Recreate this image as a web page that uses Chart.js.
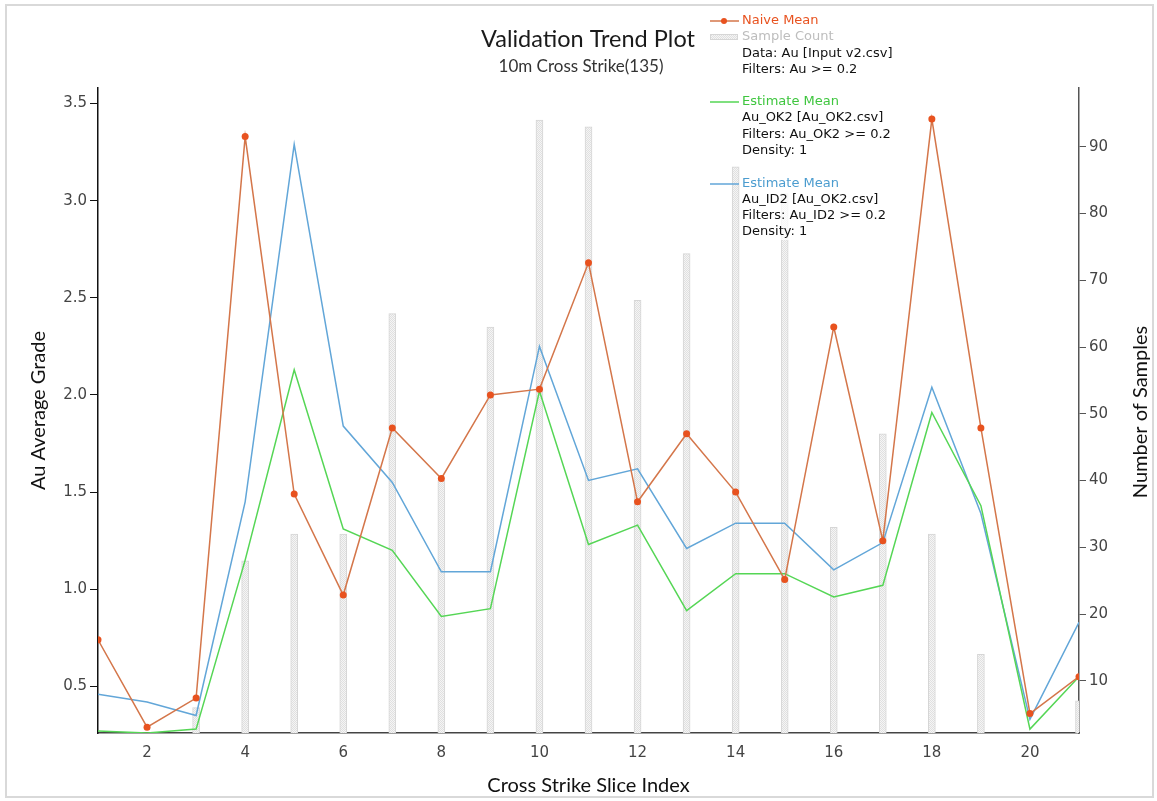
<!DOCTYPE html>
<html>
<head>
<meta charset="utf-8">
<title>Validation Trend Plot</title>
<script src="https://cdn.jsdelivr.net/npm/chart.js@4.4.1/dist/chart.umd.min.js"></script>
<style>
  html, body { margin: 0; padding: 0; background: #fff; }
  #trend { display: block; }
</style>
</head>
<body>
<canvas id="trend" width="1157" height="801"></canvas>
<script>
// slice index along the cross strike
const sliceIndex = [1, 2, 3, 4, 5, 6, 7, 8, 9, 10, 11, 12, 13, 14, 15, 16, 17, 18, 19, 20, 21];

// Au grades per slice
const naiveMean  = [0.74, 0.29, 0.44, 3.33, 1.49, 0.97, 1.83, 1.57, 2.00, 2.03, 2.68, 1.45, 1.80, 1.50, 1.05, 2.35, 1.25, 3.42, 1.83, 0.36, 0.55];
const okEstimate = [0.27, 0.26, 0.28, 1.15, 2.13, 1.31, 1.20, 0.86, 0.90, 2.02, 1.23, 1.33, 0.89, 1.08, 1.08, 0.96, 1.02, 1.91, 1.43, 0.28, 0.55];
const idEstimate = [0.46, 0.42, 0.35, 1.45, 3.29, 1.84, 1.55, 1.09, 1.09, 2.25, 1.56, 1.62, 1.21, 1.34, 1.34, 1.10, 1.24, 2.04, 1.39, 0.33, 0.83];

// samples per slice
const sampleCount = [null, null, 6, 28, 32, 32, 65, 40, 63, 94, 93, 67, 74, 87, 83, 33, 47, 32, 14, null, 7];

// axis ticks
const xTickValues     = [2, 4, 6, 8, 10, 12, 14, 16, 18, 20];
const gradeTickValues = [0.5, 1.0, 1.5, 2.0, 2.5, 3.0, 3.5];
const countTickValues = [10, 20, 30, 40, 50, 60, 70, 80, 90];

const ORANGE = '#e8521f';
const ORANGE_LINE = '#d4764a';
const GREEN = '#55d655';
const BLUE = '#62a6d8';

const pairs = (vals) => sliceIndex.map((s, i) => ({ x: s, y: vals[i] }));

// dotted grey fill used for the sample bars
function dottedFill() {
  const c = document.createElement('canvas');
  c.width = 2; c.height = 2;
  const g = c.getContext('2d');
  g.fillStyle = '#f5f5f5';
  g.fillRect(0, 0, 2, 2);
  g.fillStyle = '#e0e0e0';
  g.fillRect(0, 0, 1, 1);
  g.fillRect(1, 1, 1, 1);
  return g.createPattern(c, 'repeat');
}
const barFill = dottedFill();

const tickFont = { family: 'DejaVu Sans', size: 15 };
const titleFont = { family: 'Lato', size: 20 };

const legendBlocks = [
  { y: 21, color: ORANGE, text: 'Naive Mean', kind: 'dot' },
  { y: 37, color: '#bdbdbd', text: 'Sample Count', kind: 'bar' },
  { y: 54, color: '#111', text: 'Data: Au [Input v2.csv]' },
  { y: 70, color: '#111', text: 'Filters: Au >= 0.2' },
  { y: 102, color: '#3fc63f', text: 'Estimate Mean', kind: 'line', line: GREEN },
  { y: 118, color: '#111', text: 'Au_OK2 [Au_OK2.csv]' },
  { y: 135, color: '#111', text: 'Filters: Au_OK2 >= 0.2' },
  { y: 151, color: '#111', text: 'Density: 1' },
  { y: 184, color: '#4b9ccf', text: 'Estimate Mean', kind: 'line', line: BLUE },
  { y: 200, color: '#111', text: 'Au_ID2 [Au_OK2.csv]' },
  { y: 216, color: '#111', text: 'Filters: Au_ID2 >= 0.2' },
  { y: 232, color: '#111', text: 'Density: 1' },
];

const decorations = {
  id: 'decorations',
  beforeDraw(chart) {
    const ctx = chart.ctx;
    ctx.save();
    ctx.fillStyle = '#fff';
    ctx.fillRect(0, 0, chart.width, chart.height);
    ctx.strokeStyle = '#d9d9d9';
    ctx.lineWidth = 2;
    ctx.strokeRect(6, 5, 1147, 792);
    ctx.restore();
  },
  afterDraw(chart) {
    const ctx = chart.ctx;
    ctx.save();
    ctx.textBaseline = 'middle';
    ctx.textAlign = 'center';

    ctx.fillStyle = '#1a1a1a';
    ctx.font = '23.5px Lato';
    ctx.fillText('Validation Trend Plot', 588, 39);
    ctx.fillStyle = '#333';
    ctx.font = '17px Lato';
    ctx.fillText('10m Cross Strike(135)', 581, 67);

    // right axis title, reading bottom to top like the left one
    ctx.save();
    ctx.translate(1141, 412);
    ctx.rotate(-Math.PI / 2);
    ctx.fillStyle = '#111';
    ctx.font = '20px Lato';
    ctx.fillText('Number of Samples', 0, 0);
    ctx.restore();

    // legend
    ctx.textAlign = 'left';
    ctx.font = '13px "DejaVu Sans"';
    legendBlocks.forEach(b => {
      const w = ctx.measureText(b.text).width;
      ctx.fillStyle = 'rgba(255,255,255,0.75)';
      ctx.fillRect(741, b.y - 8, w + 2, 16);
      if (b.kind === 'dot' || b.kind === 'line') {
        ctx.strokeStyle = b.kind === 'dot' ? ORANGE_LINE : b.line;
        ctx.lineWidth = 1.5;
        ctx.beginPath();
        ctx.moveTo(710, b.y);
        ctx.lineTo(739, b.y);
        ctx.stroke();
        if (b.kind === 'dot') {
          ctx.fillStyle = ORANGE;
          ctx.beginPath();
          ctx.arc(724, b.y, 3, 0, Math.PI * 2);
          ctx.fill();
        }
      } else if (b.kind === 'bar') {
        ctx.fillStyle = barFill;
        ctx.fillRect(710, b.y - 3, 28, 6);
        ctx.strokeStyle = '#d6d6d6';
        ctx.lineWidth = 1;
        ctx.strokeRect(710.5, b.y - 2.5, 27, 5);
      }
      ctx.fillStyle = b.color;
      ctx.fillText(b.text, 742, b.y);
    });
    ctx.restore();
  }
};

new Chart(document.getElementById('trend'), {
  type: 'bar',
  data: {
    datasets: [
      {
        type: 'line',
        label: 'Naive Mean',
        data: pairs(naiveMean),
        yAxisID: 'yGrade',
        borderColor: ORANGE_LINE,
        borderWidth: 1.5,
        pointRadius: 3.5,
        pointBackgroundColor: ORANGE,
        pointBorderWidth: 0,
        tension: 0,
        order: 1
      },
      {
        type: 'line',
        label: 'Estimate Mean (Au_OK2)',
        data: pairs(okEstimate),
        yAxisID: 'yGrade',
        borderColor: GREEN,
        borderWidth: 1.5,
        pointRadius: 0,
        tension: 0,
        order: 2
      },
      {
        type: 'line',
        label: 'Estimate Mean (Au_ID2)',
        data: pairs(idEstimate),
        yAxisID: 'yGrade',
        borderColor: BLUE,
        borderWidth: 1.5,
        pointRadius: 0,
        tension: 0,
        order: 3
      },
      {
        type: 'bar',
        label: 'Sample Count',
        data: pairs(sampleCount),
        yAxisID: 'yCount',
        backgroundColor: barFill,
        borderColor: '#d6d6d6',
        borderWidth: 1,
        barThickness: 7,
        order: 4
      }
    ]
  },
  options: {
    responsive: false,
    animation: false,
    devicePixelRatio: 1,
    layout: { padding: { top: 88, left: 0, right: 0, bottom: 0 } },
    plugins: {
      legend: { display: false },
      tooltip: { enabled: false }
    },
    scales: {
      x: {
        type: 'linear',
        min: 1,
        max: 21,
        offset: false,
        afterBuildTicks: s => { s.ticks = xTickValues.map(v => ({ value: v })); },
        afterFit: s => { s.height = 68; },
        grid: { display: false, drawTicks: false },
        border: { display: true, color: '#444', width: 1.5 },
        ticks: { font: { family: 'DejaVu Sans', size: 15 }, color: '#444', padding: 11, maxRotation: 0 },
        title: { display: true, text: 'Cross Strike Slice Index', font: titleFont, color: '#111', padding: { top: 0, bottom: 3 } }
      },
      yGrade: {
        type: 'linear',
        position: 'left',
        min: 0.26,
        max: 3.58,
        afterBuildTicks: s => { s.ticks = gradeTickValues.map(v => ({ value: v })); },
        afterFit: s => { s.width = 98; },
        grid: { drawOnChartArea: false, drawTicks: true, tickLength: 8, color: '#111' },
        border: { display: true, color: '#111', width: 1.5 },
        ticks: { font: tickFont, color: '#444', padding: 3, callback: v => v.toFixed(1) },
        title: { display: true, text: 'Au Average Grade', font: titleFont, color: '#111', padding: { top: 27, bottom: 0 } }
      },
      yCount: {
        type: 'linear',
        position: 'right',
        min: 2.2,
        max: 98.8,
        afterBuildTicks: s => { s.ticks = countTickValues.map(v => ({ value: v })); },
        afterFit: s => { s.width = 78; },
        grid: { drawOnChartArea: false, drawTicks: true, tickLength: 7, color: '#555' },
        border: { display: true, color: '#555', width: 1.5 },
        ticks: { font: tickFont, color: '#444', padding: 3 }
      }
    }
  },
  plugins: [decorations]
});
</script>
</body>
</html>
